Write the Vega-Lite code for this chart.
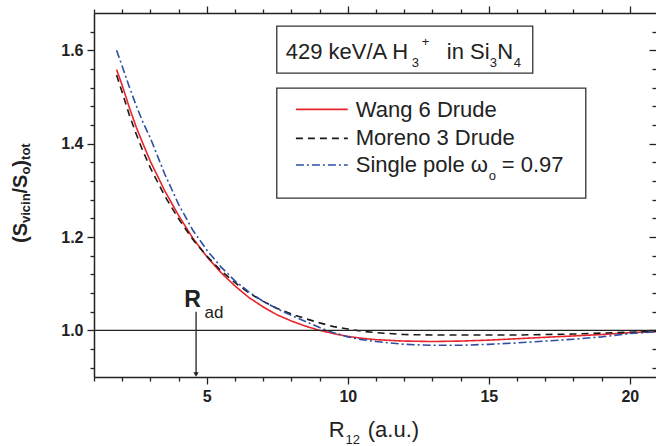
{
  "$schema": "https://vega.github.io/schema/vega-lite/v6.json",
  "width": 562,
  "height": 364,
  "autosize": {"type": "none"},
  "padding": {"left": 94, "top": 13, "right": 0, "bottom": 69},
  "background": "white",
  "config": {
    "view": {"stroke": null},
    "font": "Liberation Sans",
    "text": {"font": "Liberation Sans", "color": "#222"},
    "axis": {
      "domainColor": "#222",
      "domainWidth": 1.5,
      "tickColor": "#222",
      "tickWidth": 1.3,
      "grid": false,
      "labelFont": "Liberation Sans",
      "labelFontWeight": "bold",
      "labelFontSize": 16,
      "labelColor": "#222",
      "title": null
    }
  },
  "datasets": {
    "curves": [
      {"model": "Wang 6 Drude", "r": 1.8, "s": 1.559},
      {"model": "Wang 6 Drude", "r": 2.0, "s": 1.525},
      {"model": "Wang 6 Drude", "r": 2.25, "s": 1.478},
      {"model": "Wang 6 Drude", "r": 2.5, "s": 1.435},
      {"model": "Wang 6 Drude", "r": 2.75, "s": 1.398},
      {"model": "Wang 6 Drude", "r": 3.0, "s": 1.362},
      {"model": "Wang 6 Drude", "r": 3.5, "s": 1.300},
      {"model": "Wang 6 Drude", "r": 4.0, "s": 1.246},
      {"model": "Wang 6 Drude", "r": 4.5, "s": 1.198},
      {"model": "Wang 6 Drude", "r": 5.0, "s": 1.158},
      {"model": "Wang 6 Drude", "r": 5.5, "s": 1.124},
      {"model": "Wang 6 Drude", "r": 6.0, "s": 1.095},
      {"model": "Wang 6 Drude", "r": 6.5, "s": 1.070},
      {"model": "Wang 6 Drude", "r": 7.0, "s": 1.050},
      {"model": "Wang 6 Drude", "r": 7.5, "s": 1.033},
      {"model": "Wang 6 Drude", "r": 8.0, "s": 1.020},
      {"model": "Wang 6 Drude", "r": 8.5, "s": 1.009},
      {"model": "Wang 6 Drude", "r": 9.0, "s": 1.000},
      {"model": "Wang 6 Drude", "r": 9.5, "s": 0.993},
      {"model": "Wang 6 Drude", "r": 10.0, "s": 0.987},
      {"model": "Wang 6 Drude", "r": 10.5, "s": 0.983},
      {"model": "Wang 6 Drude", "r": 11.0, "s": 0.980},
      {"model": "Wang 6 Drude", "r": 12.0, "s": 0.977},
      {"model": "Wang 6 Drude", "r": 13.0, "s": 0.976},
      {"model": "Wang 6 Drude", "r": 14.0, "s": 0.977},
      {"model": "Wang 6 Drude", "r": 15.0, "s": 0.979},
      {"model": "Wang 6 Drude", "r": 16.0, "s": 0.982},
      {"model": "Wang 6 Drude", "r": 17.0, "s": 0.985},
      {"model": "Wang 6 Drude", "r": 18.0, "s": 0.988},
      {"model": "Wang 6 Drude", "r": 19.0, "s": 0.991},
      {"model": "Wang 6 Drude", "r": 20.0, "s": 0.995},
      {"model": "Wang 6 Drude", "r": 21.0, "s": 0.998},
      {"model": "Moreno 3 Drude", "r": 1.8, "s": 1.547},
      {"model": "Moreno 3 Drude", "r": 2.0, "s": 1.510},
      {"model": "Moreno 3 Drude", "r": 2.25, "s": 1.462},
      {"model": "Moreno 3 Drude", "r": 2.5, "s": 1.420},
      {"model": "Moreno 3 Drude", "r": 2.75, "s": 1.382},
      {"model": "Moreno 3 Drude", "r": 3.0, "s": 1.348},
      {"model": "Moreno 3 Drude", "r": 3.5, "s": 1.289},
      {"model": "Moreno 3 Drude", "r": 4.0, "s": 1.239},
      {"model": "Moreno 3 Drude", "r": 4.5, "s": 1.195},
      {"model": "Moreno 3 Drude", "r": 5.0, "s": 1.159},
      {"model": "Moreno 3 Drude", "r": 5.5, "s": 1.128},
      {"model": "Moreno 3 Drude", "r": 6.0, "s": 1.102},
      {"model": "Moreno 3 Drude", "r": 6.5, "s": 1.080},
      {"model": "Moreno 3 Drude", "r": 7.0, "s": 1.062},
      {"model": "Moreno 3 Drude", "r": 7.5, "s": 1.047},
      {"model": "Moreno 3 Drude", "r": 8.0, "s": 1.035},
      {"model": "Moreno 3 Drude", "r": 8.5, "s": 1.025},
      {"model": "Moreno 3 Drude", "r": 9.0, "s": 1.016},
      {"model": "Moreno 3 Drude", "r": 9.5, "s": 1.008},
      {"model": "Moreno 3 Drude", "r": 10.0, "s": 1.003},
      {"model": "Moreno 3 Drude", "r": 10.5, "s": 0.998},
      {"model": "Moreno 3 Drude", "r": 11.0, "s": 0.995},
      {"model": "Moreno 3 Drude", "r": 12.0, "s": 0.991},
      {"model": "Moreno 3 Drude", "r": 13.0, "s": 0.990},
      {"model": "Moreno 3 Drude", "r": 14.0, "s": 0.990},
      {"model": "Moreno 3 Drude", "r": 15.0, "s": 0.990},
      {"model": "Moreno 3 Drude", "r": 16.0, "s": 0.990},
      {"model": "Moreno 3 Drude", "r": 17.0, "s": 0.991},
      {"model": "Moreno 3 Drude", "r": 18.0, "s": 0.992},
      {"model": "Moreno 3 Drude", "r": 19.0, "s": 0.994},
      {"model": "Moreno 3 Drude", "r": 20.0, "s": 0.996},
      {"model": "Moreno 3 Drude", "r": 21.0, "s": 0.998},
      {"model": "Single pole", "r": 1.8, "s": 1.600},
      {"model": "Single pole", "r": 2.0, "s": 1.566},
      {"model": "Single pole", "r": 2.25, "s": 1.522},
      {"model": "Single pole", "r": 2.5, "s": 1.481},
      {"model": "Single pole", "r": 2.75, "s": 1.444},
      {"model": "Single pole", "r": 3.0, "s": 1.412},
      {"model": "Single pole", "r": 3.5, "s": 1.336},
      {"model": "Single pole", "r": 4.0, "s": 1.270},
      {"model": "Single pole", "r": 4.5, "s": 1.215},
      {"model": "Single pole", "r": 5.0, "s": 1.172},
      {"model": "Single pole", "r": 5.5, "s": 1.136},
      {"model": "Single pole", "r": 6.0, "s": 1.106},
      {"model": "Single pole", "r": 6.5, "s": 1.082},
      {"model": "Single pole", "r": 7.0, "s": 1.062},
      {"model": "Single pole", "r": 7.5, "s": 1.046},
      {"model": "Single pole", "r": 8.0, "s": 1.032},
      {"model": "Single pole", "r": 8.5, "s": 1.019},
      {"model": "Single pole", "r": 9.0, "s": 1.006},
      {"model": "Single pole", "r": 9.5, "s": 0.995},
      {"model": "Single pole", "r": 10.0, "s": 0.986},
      {"model": "Single pole", "r": 10.5, "s": 0.980},
      {"model": "Single pole", "r": 11.0, "s": 0.976},
      {"model": "Single pole", "r": 12.0, "s": 0.970},
      {"model": "Single pole", "r": 13.0, "s": 0.968},
      {"model": "Single pole", "r": 14.0, "s": 0.968},
      {"model": "Single pole", "r": 15.0, "s": 0.970},
      {"model": "Single pole", "r": 16.0, "s": 0.973},
      {"model": "Single pole", "r": 17.0, "s": 0.977},
      {"model": "Single pole", "r": 18.0, "s": 0.981},
      {"model": "Single pole", "r": 19.0, "s": 0.986},
      {"model": "Single pole", "r": 20.0, "s": 0.993},
      {"model": "Single pole", "r": 21.0, "s": 0.997}
    ],
    "legendRows": [
      {"model": "Wang 6 Drude", "r": 8.16, "r2": 10.0, "s": 1.4735},
      {"model": "Moreno 3 Drude", "r": 8.16, "r2": 10.0, "s": 1.4114},
      {"model": "Single pole", "r": 8.16, "r2": 10.0, "s": 1.3542}
    ],
    "boxes": [
      {"box": "title", "r": 7.482, "r2": 16.56, "s": 1.652, "s2": 1.5513},
      {"box": "legend", "r": 7.482, "r2": 18.44, "s": 1.5192, "s2": 1.2835}
    ],
    "reference": [{"s": 1.0}],
    "adiabatic": [{"r": 4.62, "top": 1.040, "bottom": 0.9055}],
    "one": [{}]
  },
  "resolve": {"axis": {"x": "independent", "y": "independent"}},
  "layer": [
    {
      "data": {"name": "boxes"},
      "mark": {"type": "rect", "fill": "white", "stroke": "#333", "strokeWidth": 1.3},
      "encoding": {
        "x": {"field": "r", "type": "quantitative", "scale": {"domain": [1, 20.93], "nice": false, "zero": false},
              "axis": {"orient": "top", "values": [1,2,3,4,5,6,7,8,9,10,11,12,13,14,15,16,17,18,19,20], "labels": false,
                       "tickSize": {"condition": {"test": "datum.value % 5 === 0", "value": 7}, "value": 4}}},
        "x2": {"field": "r2"},
        "y": {"field": "s", "type": "quantitative", "scale": {"domain": [0.9, 1.68], "nice": false, "zero": false},
              "axis": {"orient": "right", "domain": false, "labels": false,
                       "values": [0.92,0.96,1.0,1.04,1.08,1.12,1.16,1.2,1.24,1.28,1.32,1.36,1.4,1.44,1.48,1.52,1.56,1.6,1.64],
                       "tickSize": {"condition": {"test": "abs(datum.value*5 - round(datum.value*5)) < 0.001", "value": -7}, "value": -4}}},
        "y2": {"field": "s2"}
      }
    },
    {
      "data": {"name": "curves"},
      "mark": {"type": "line", "strokeWidth": 1.6, "clip": true},
      "encoding": {
        "x": {"field": "r", "type": "quantitative", "scale": {"domain": [1, 20.93], "nice": false, "zero": false},
              "axis": {"orient": "bottom", "values": [1,2,3,4,5,6,7,8,9,10,11,12,13,14,15,16,17,18,19,20],
                       "labelExpr": "datum.value % 5 === 0 ? datum.label : ''", "labelPadding": 4,
                       "tickSize": {"condition": {"test": "datum.value % 5 === 0", "value": 7}, "value": 4}}},
        "y": {"field": "s", "type": "quantitative", "scale": {"domain": [0.9, 1.68], "nice": false, "zero": false},
              "axis": {"orient": "left",
                       "values": [0.92,0.96,1.0,1.04,1.08,1.12,1.16,1.2,1.24,1.28,1.32,1.36,1.4,1.44,1.48,1.52,1.56,1.6,1.64],
                       "labelExpr": "abs(datum.value*5 - round(datum.value*5)) < 0.001 ? format(datum.value, '.1f') : ''",
                       "labelPadding": 4,
                       "tickSize": {"condition": {"test": "abs(datum.value*5 - round(datum.value*5)) < 0.001", "value": 7}, "value": 4}}},
        "color": {"field": "model", "type": "nominal", "legend": null,
                  "scale": {"domain": ["Wang 6 Drude", "Moreno 3 Drude", "Single pole"], "range": ["#e8242b", "#1a1a1a", "#2e4fa3"]}},
        "strokeDash": {"field": "model", "type": "nominal", "legend": null,
                       "scale": {"domain": ["Wang 6 Drude", "Moreno 3 Drude", "Single pole"], "range": [[1, 0], [7, 5], [8, 3, 2, 3]]}}
      }
    },
    {
      "data": {"name": "reference"},
      "mark": {"type": "rule", "color": "#222", "strokeWidth": 1.4},
      "encoding": {
        "y": {"field": "s", "type": "quantitative", "scale": {"domain": [0.9, 1.68], "nice": false, "zero": false}, "axis": null}
      }
    },
    {
      "data": {"name": "legendRows"},
      "mark": {"type": "rule", "strokeWidth": 1.6},
      "encoding": {
        "x": {"field": "r", "type": "quantitative", "scale": {"domain": [1, 20.93], "nice": false, "zero": false}, "axis": null},
        "x2": {"field": "r2"},
        "y": {"field": "s", "type": "quantitative", "scale": {"domain": [0.9, 1.68], "nice": false, "zero": false}, "axis": null},
        "color": {"field": "model", "type": "nominal", "legend": null,
                  "scale": {"domain": ["Wang 6 Drude", "Moreno 3 Drude", "Single pole"], "range": ["#e8242b", "#1a1a1a", "#2e4fa3"]}},
        "strokeDash": {"field": "model", "type": "nominal", "legend": null,
                       "scale": {"domain": ["Wang 6 Drude", "Moreno 3 Drude", "Single pole"], "range": [[1, 0], [7, 5], [8, 3, 2, 3]]}}
      }
    },
    {
      "data": {"name": "adiabatic"},
      "mark": {"type": "rule", "color": "#222", "strokeWidth": 1.3},
      "encoding": {
        "x": {"field": "r", "type": "quantitative", "scale": {"domain": [1, 20.93], "nice": false, "zero": false}, "axis": null},
        "y": {"field": "top", "type": "quantitative", "scale": {"domain": [0.9, 1.68], "nice": false, "zero": false}, "axis": null},
        "y2": {"field": "bottom"}
      }
    },
    {
      "data": {"name": "adiabatic"},
      "mark": {"type": "point", "shape": "triangle-down", "filled": true, "color": "#222", "size": 28, "opacity": 1},
      "encoding": {
        "x": {"field": "r", "type": "quantitative", "scale": {"domain": [1, 20.93], "nice": false, "zero": false}, "axis": null},
        "y": {"field": "bottom", "type": "quantitative", "scale": {"domain": [0.9, 1.68], "nice": false, "zero": false}, "axis": null}
      }
    },
    {
      "data": {"name": "one"},
      "mark": {"type": "text", "align": "left", "baseline": "alphabetic", "fontSize": 23, "fontWeight": "bold"},
      "encoding": {
        "x": {"datum": 4.2, "type": "quantitative", "scale": {"domain": [1, 20.93], "nice": false, "zero": false}, "axis": null},
        "y": {"datum": 1.0506, "type": "quantitative", "scale": {"domain": [0.9, 1.68], "nice": false, "zero": false}, "axis": null},
        "text": {"value": "R"}
      }
    },
    {
      "data": {"name": "one"},
      "mark": {"type": "text", "align": "left", "baseline": "alphabetic", "fontSize": 17},
      "encoding": {
        "x": {"datum": 4.92, "type": "quantitative", "scale": {"domain": [1, 20.93], "nice": false, "zero": false}, "axis": null},
        "y": {"datum": 1.0264, "type": "quantitative", "scale": {"domain": [0.9, 1.68], "nice": false, "zero": false}, "axis": null},
        "text": {"value": "ad"}
      }
    },
    {
      "data": {"name": "one"},
      "mark": {"type": "text", "align": "left", "baseline": "alphabetic", "fontSize": 22},
      "encoding": {
        "x": {"datum": 7.801, "type": "quantitative", "scale": {"domain": [1, 20.93], "nice": false, "zero": false}, "axis": null},
        "y": {"datum": 1.5813, "type": "quantitative", "scale": {"domain": [0.9, 1.68], "nice": false, "zero": false}, "axis": null},
        "text": {"value": "429 keV/A H"}
      }
    },
    {
      "data": {"name": "one"},
      "mark": {"type": "text", "align": "left", "baseline": "alphabetic", "fontSize": 13},
      "encoding": {
        "x": {"datum": 12.27, "type": "quantitative", "scale": {"domain": [1, 20.93], "nice": false, "zero": false}, "axis": null},
        "y": {"datum": 1.5635, "type": "quantitative", "scale": {"domain": [0.9, 1.68], "nice": false, "zero": false}, "axis": null},
        "text": {"value": "3"}
      }
    },
    {
      "data": {"name": "one"},
      "mark": {"type": "text", "align": "left", "baseline": "alphabetic", "fontSize": 13},
      "encoding": {
        "x": {"datum": 12.624, "type": "quantitative", "scale": {"domain": [1, 20.93], "nice": false, "zero": false}, "axis": null},
        "y": {"datum": 1.6102, "type": "quantitative", "scale": {"domain": [0.9, 1.68], "nice": false, "zero": false}, "axis": null},
        "text": {"value": "+"}
      }
    },
    {
      "data": {"name": "one"},
      "mark": {"type": "text", "align": "left", "baseline": "alphabetic", "fontSize": 22},
      "encoding": {
        "x": {"datum": 13.511, "type": "quantitative", "scale": {"domain": [1, 20.93], "nice": false, "zero": false}, "axis": null},
        "y": {"datum": 1.5813, "type": "quantitative", "scale": {"domain": [0.9, 1.68], "nice": false, "zero": false}, "axis": null},
        "text": {"value": "in Si"}
      }
    },
    {
      "data": {"name": "one"},
      "mark": {"type": "text", "align": "left", "baseline": "alphabetic", "fontSize": 13},
      "encoding": {
        "x": {"datum": 15.035, "type": "quantitative", "scale": {"domain": [1, 20.93], "nice": false, "zero": false}, "axis": null},
        "y": {"datum": 1.5635, "type": "quantitative", "scale": {"domain": [0.9, 1.68], "nice": false, "zero": false}, "axis": null},
        "text": {"value": "3"}
      }
    },
    {
      "data": {"name": "one"},
      "mark": {"type": "text", "align": "left", "baseline": "alphabetic", "fontSize": 22},
      "encoding": {
        "x": {"datum": 15.301, "type": "quantitative", "scale": {"domain": [1, 20.93], "nice": false, "zero": false}, "axis": null},
        "y": {"datum": 1.5813, "type": "quantitative", "scale": {"domain": [0.9, 1.68], "nice": false, "zero": false}, "axis": null},
        "text": {"value": "N"}
      }
    },
    {
      "data": {"name": "one"},
      "mark": {"type": "text", "align": "left", "baseline": "alphabetic", "fontSize": 13},
      "encoding": {
        "x": {"datum": 15.887, "type": "quantitative", "scale": {"domain": [1, 20.93], "nice": false, "zero": false}, "axis": null},
        "y": {"datum": 1.5635, "type": "quantitative", "scale": {"domain": [0.9, 1.68], "nice": false, "zero": false}, "axis": null},
        "text": {"value": "4"}
      }
    },
    {
      "data": {"name": "one"},
      "mark": {"type": "text", "align": "left", "baseline": "alphabetic", "fontSize": 22},
      "encoding": {
        "x": {"datum": 10.284, "type": "quantitative", "scale": {"domain": [1, 20.93], "nice": false, "zero": false}, "axis": null},
        "y": {"datum": 1.4577, "type": "quantitative", "scale": {"domain": [0.9, 1.68], "nice": false, "zero": false}, "axis": null},
        "text": {"value": "Wang 6 Drude"}
      }
    },
    {
      "data": {"name": "one"},
      "mark": {"type": "text", "align": "left", "baseline": "alphabetic", "fontSize": 22},
      "encoding": {
        "x": {"datum": 10.284, "type": "quantitative", "scale": {"domain": [1, 20.93], "nice": false, "zero": false}, "axis": null},
        "y": {"datum": 1.397, "type": "quantitative", "scale": {"domain": [0.9, 1.68], "nice": false, "zero": false}, "axis": null},
        "text": {"value": "Moreno 3 Drude"}
      }
    },
    {
      "data": {"name": "one"},
      "mark": {"type": "text", "align": "left", "baseline": "alphabetic", "fontSize": 22},
      "encoding": {
        "x": {"datum": 10.284, "type": "quantitative", "scale": {"domain": [1, 20.93], "nice": false, "zero": false}, "axis": null},
        "y": {"datum": 1.3398, "type": "quantitative", "scale": {"domain": [0.9, 1.68], "nice": false, "zero": false}, "axis": null},
        "text": {"value": "Single pole ω"}
      }
    },
    {
      "data": {"name": "one"},
      "mark": {"type": "text", "align": "left", "baseline": "alphabetic", "fontSize": 13},
      "encoding": {
        "x": {"datum": 15.0, "type": "quantitative", "scale": {"domain": [1, 20.93], "nice": false, "zero": false}, "axis": null},
        "y": {"datum": 1.3217, "type": "quantitative", "scale": {"domain": [0.9, 1.68], "nice": false, "zero": false}, "axis": null},
        "text": {"value": "o"}
      }
    },
    {
      "data": {"name": "one"},
      "mark": {"type": "text", "align": "left", "baseline": "alphabetic", "fontSize": 22},
      "encoding": {
        "x": {"datum": 15.46, "type": "quantitative", "scale": {"domain": [1, 20.93], "nice": false, "zero": false}, "axis": null},
        "y": {"datum": 1.3398, "type": "quantitative", "scale": {"domain": [0.9, 1.68], "nice": false, "zero": false}, "axis": null},
        "text": {"value": "= 0.97"}
      }
    },
    {
      "data": {"name": "one"},
      "mark": {"type": "text", "align": "left", "baseline": "alphabetic", "fontSize": 22},
      "encoding": {
        "x": {"datum": 9.327, "type": "quantitative", "scale": {"domain": [1, 20.93], "nice": false, "zero": false}, "axis": null},
        "y": {"datum": 0.7714, "type": "quantitative", "scale": {"domain": [0.9, 1.68], "nice": false, "zero": false}, "axis": null},
        "text": {"value": "R"}
      }
    },
    {
      "data": {"name": "one"},
      "mark": {"type": "text", "align": "left", "baseline": "alphabetic", "fontSize": 13},
      "encoding": {
        "x": {"datum": 9.92, "type": "quantitative", "scale": {"domain": [1, 20.93], "nice": false, "zero": false}, "axis": null},
        "y": {"datum": 0.7564, "type": "quantitative", "scale": {"domain": [0.9, 1.68], "nice": false, "zero": false}, "axis": null},
        "text": {"value": "12"}
      }
    },
    {
      "data": {"name": "one"},
      "mark": {"type": "text", "align": "left", "baseline": "alphabetic", "fontSize": 22},
      "encoding": {
        "x": {"datum": 10.709, "type": "quantitative", "scale": {"domain": [1, 20.93], "nice": false, "zero": false}, "axis": null},
        "y": {"datum": 0.7714, "type": "quantitative", "scale": {"domain": [0.9, 1.68], "nice": false, "zero": false}, "axis": null},
        "text": {"value": "(a.u.)"}
      }
    },
    {
      "data": {"name": "one"},
      "mark": {"type": "text", "align": "left", "baseline": "alphabetic", "fontSize": 20, "fontWeight": "bold", "angle": 270},
      "encoding": {
        "x": {"datum": -1.383, "type": "quantitative", "scale": {"domain": [1, 20.93], "nice": false, "zero": false}, "axis": null},
        "y": {"datum": 1.1871, "type": "quantitative", "scale": {"domain": [0.9, 1.68], "nice": false, "zero": false}, "axis": null},
        "text": {"value": "(S"}
      }
    },
    {
      "data": {"name": "one"},
      "mark": {"type": "text", "align": "left", "baseline": "alphabetic", "fontSize": 13, "fontWeight": "bold", "angle": 270},
      "encoding": {
        "x": {"datum": -1.259, "type": "quantitative", "scale": {"domain": [1, 20.93], "nice": false, "zero": false}, "axis": null},
        "y": {"datum": 1.2299, "type": "quantitative", "scale": {"domain": [0.9, 1.68], "nice": false, "zero": false}, "axis": null},
        "text": {"value": "vicin"}
      }
    },
    {
      "data": {"name": "one"},
      "mark": {"type": "text", "align": "left", "baseline": "alphabetic", "fontSize": 20, "fontWeight": "bold", "angle": 270},
      "encoding": {
        "x": {"datum": -1.383, "type": "quantitative", "scale": {"domain": [1, 20.93], "nice": false, "zero": false}, "axis": null},
        "y": {"datum": 1.2933, "type": "quantitative", "scale": {"domain": [0.9, 1.68], "nice": false, "zero": false}, "axis": null},
        "text": {"value": "/S"}
      }
    },
    {
      "data": {"name": "one"},
      "mark": {"type": "text", "align": "left", "baseline": "alphabetic", "fontSize": 13, "fontWeight": "bold", "angle": 270},
      "encoding": {
        "x": {"datum": -1.259, "type": "quantitative", "scale": {"domain": [1, 20.93], "nice": false, "zero": false}, "axis": null},
        "y": {"datum": 1.3338, "type": "quantitative", "scale": {"domain": [0.9, 1.68], "nice": false, "zero": false}, "axis": null},
        "text": {"value": "o"}
      }
    },
    {
      "data": {"name": "one"},
      "mark": {"type": "text", "align": "left", "baseline": "alphabetic", "fontSize": 20, "fontWeight": "bold", "angle": 270},
      "encoding": {
        "x": {"datum": -1.383, "type": "quantitative", "scale": {"domain": [1, 20.93], "nice": false, "zero": false}, "axis": null},
        "y": {"datum": 1.3508, "type": "quantitative", "scale": {"domain": [0.9, 1.68], "nice": false, "zero": false}, "axis": null},
        "text": {"value": ")"}
      }
    },
    {
      "data": {"name": "one"},
      "mark": {"type": "text", "align": "left", "baseline": "alphabetic", "fontSize": 13, "fontWeight": "bold", "angle": 270},
      "encoding": {
        "x": {"datum": -1.259, "type": "quantitative", "scale": {"domain": [1, 20.93], "nice": false, "zero": false}, "axis": null},
        "y": {"datum": 1.3651, "type": "quantitative", "scale": {"domain": [0.9, 1.68], "nice": false, "zero": false}, "axis": null},
        "text": {"value": "tot"}
      }
    }
  ]
}
